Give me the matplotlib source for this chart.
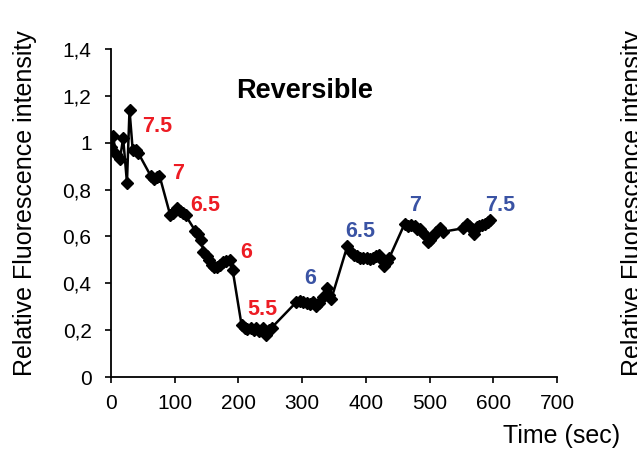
import matplotlib
matplotlib.use("Agg")
import matplotlib.pyplot as plt

plt.rcParams['font.family'] = ['Liberation Sans', 'DejaVu Sans']

# time (sec) and relative fluorescence
time = [0, 3, 8, 14, 19, 25, 29, 34, 39, 43, 62, 67, 72, 76,
        93, 98, 103, 108, 113, 117, 132, 136, 141, 145, 150, 154, 158, 162,
        166, 171, 176, 181, 186, 191, 205, 210, 214, 219, 224, 228, 233, 238,
        243, 248, 252, 291, 297, 302, 307, 312, 317, 322, 327, 333, 339, 342,
        346, 371, 376, 381, 386, 391, 396, 401, 406, 411, 416, 421, 425, 429,
        433, 437, 461, 466, 471, 477, 481, 485, 489, 493, 497, 501, 505, 510,
        516, 521, 553, 558, 562, 566, 570, 574, 578, 582, 587, 591, 595]
intensity = [0.98, 1.03, 0.95, 0.93, 1.02, 0.83, 1.14, 0.97, 0.97, 0.955, 0.86, 0.845, 0.855, 0.86,
             0.69, 0.70, 0.72, 0.71, 0.70, 0.69, 0.625, 0.61, 0.585, 0.535, 0.515, 0.50, 0.48, 0.47,
             0.47, 0.48, 0.49, 0.495, 0.50, 0.455, 0.22, 0.21, 0.205, 0.21, 0.20, 0.21, 0.195, 0.21,
             0.18, 0.20, 0.21, 0.32, 0.325, 0.32, 0.315, 0.31, 0.32, 0.305, 0.315, 0.34, 0.38, 0.35,
             0.335, 0.56, 0.535, 0.52, 0.515, 0.51, 0.51, 0.51, 0.505, 0.51, 0.515, 0.52, 0.50, 0.475,
             0.49, 0.51, 0.655, 0.645, 0.65, 0.645, 0.63, 0.63, 0.615, 0.605, 0.575, 0.585, 0.60, 0.62,
             0.635, 0.62, 0.635, 0.655, 0.645, 0.63, 0.61, 0.64, 0.645, 0.65, 0.655, 0.66, 0.67]

# pH labels: going down (red) then back up (blue)
down_ph = ["7.5", "7", "6.5", "6", "5.5"]
down_x = [72, 105, 148, 212, 237]
down_y = [1.07, 0.87, 0.73, 0.53, 0.29]
up_ph = ["6", "6.5", "7", "7.5"]
up_x = [312, 391, 477, 611]
up_y = [0.42, 0.62, 0.73, 0.73]

yticks = [0, 0.2, 0.4, 0.6, 0.8, 1.0, 1.2, 1.4]
ytick_labels = ["0", "0,2", "0,4", "0,6", "0,8", "1", "1,2", "1,4"]
xticks = [0, 100, 200, 300, 400, 500, 600, 700]

red = "#ED1C24"
blue = "#3A53A4"

fig = plt.figure(figsize=(6.37, 4.61), dpi=100)
ax = fig.add_axes([0.1743, 0.1822, 0.7001, 0.7115])

ax.plot(time, intensity, color="black", linewidth=1.8, marker="D", markersize=6.5)

for lab, x, y in zip(down_ph, down_x, down_y):
    ax.text(x, y, lab, color=red, fontsize=15.5, fontweight="bold", ha="center", va="center")
for lab, x, y in zip(up_ph, up_x, up_y):
    ax.text(x, y, lab, color=blue, fontsize=15.5, fontweight="bold", ha="center", va="center")

ax.text(196, 1.22, "Reversible", fontsize=19.5, fontweight="bold", ha="left", va="center")

ax.set_xlim(0, 700)
ax.set_ylim(0, 1.4)
ax.set_xticks(xticks)
ax.set_yticks(yticks)
ax.set_yticklabels(ytick_labels)
ax.tick_params(axis="both", direction="out", length=4, width=1.2, labelsize=15)
ax.tick_params(axis="y", pad=10)
ax.tick_params(axis="x", pad=8)
ax.spines["top"].set_visible(False)
ax.spines["right"].set_visible(False)
ax.spines["left"].set_linewidth(1.3)
ax.spines["bottom"].set_linewidth(1.3)

fig.text(25 / 637, 1 - 203 / 461, "Relative Fluorescence intensity", rotation=90,
         fontsize=18, ha="center", va="center")
fig.text(620 / 637, 1 - 443 / 461, "Time (sec)", fontsize=18, ha="right", va="baseline")
# neighbouring panel's label, cut off at the right edge
fig.text(621 / 637, 1 - 203 / 461, "Relative Fluorescence intensity", rotation=90,
         fontsize=18, ha="left", va="center")

fig.savefig("out.png", dpi=100)
